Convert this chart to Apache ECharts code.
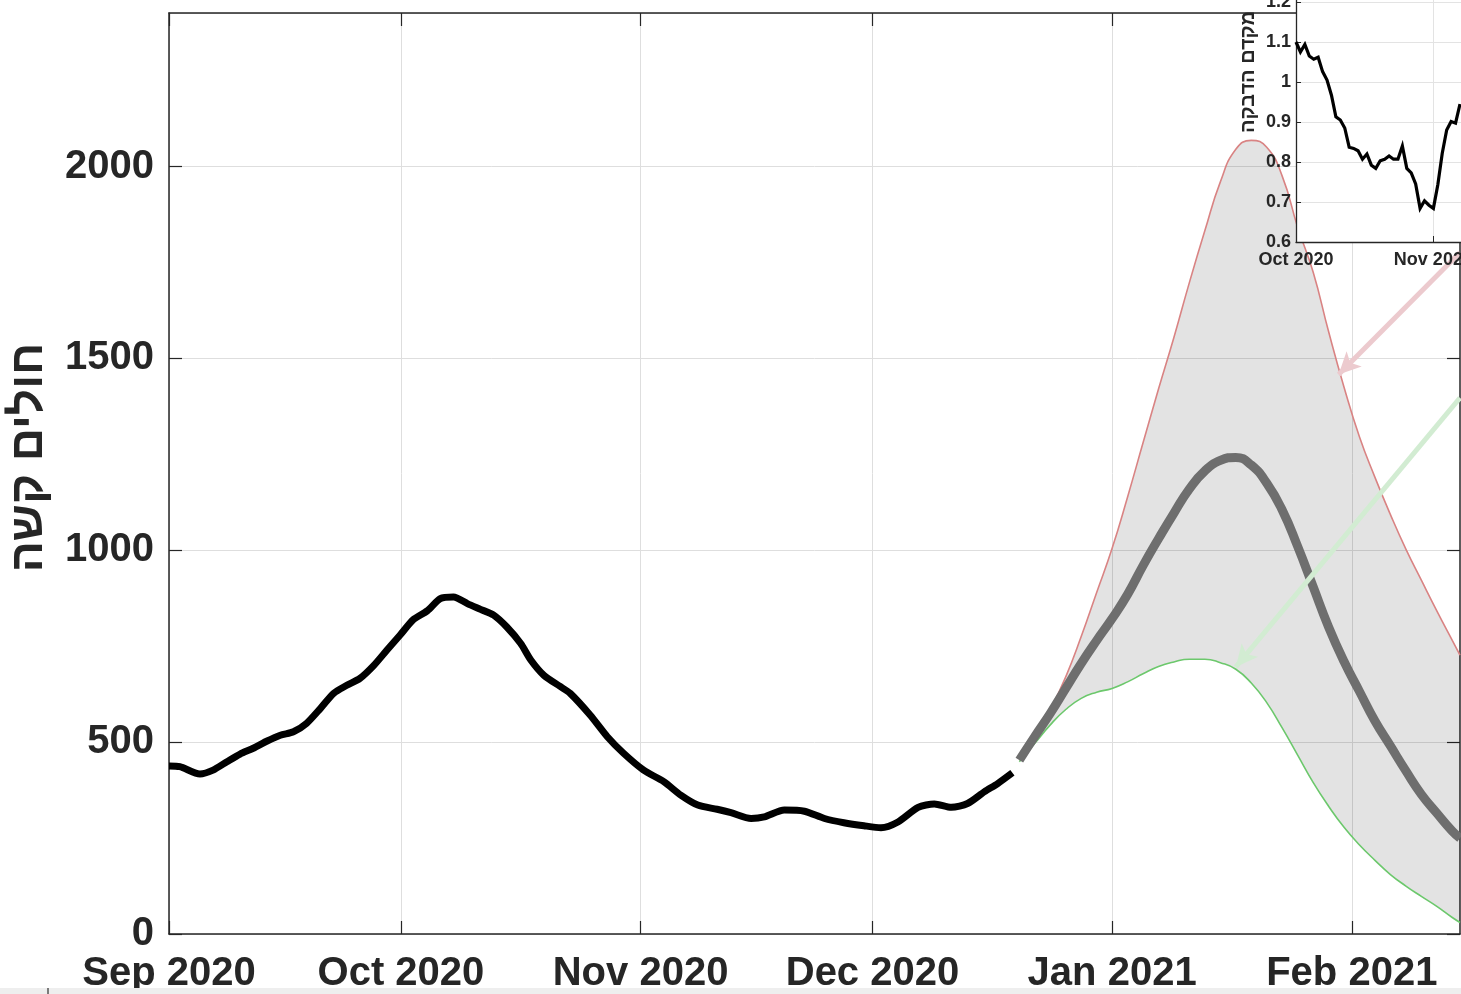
<!DOCTYPE html>
<html>
<head>
<meta charset="utf-8">
<script src="https://cdn.jsdelivr.net/npm/echarts@6/dist/echarts.min.js"></script>
<style>
html,body{margin:0;padding:0;background:#ffffff;}
#chart{width:1461px;height:994px;}
</style>
</head>
<body>
<div id="chart"></div>
<script>
// ---------- data ----------
const startDate = '2020-09-01';
const xMaxDay = 167; // days after startDate (Feb 15 2021)

// observed severe patients (day offset from Sep 1 2020, value)
const observedDays = [0, 1.4, 4, 5.7, 7.5, 9.2, 10.9, 12.7, 14.4, 16.1, 17.8, 19.6, 21.3, 23, 24.7, 26.5, 28.2, 29.9,
  31.6, 33.4, 35.1, 36.8, 38.6, 40.3, 42, 43.7, 45.5, 46.8, 48.5, 50.6, 51.9, 54.5, 56.7, 58.8, 61.4, 64, 66.2, 68.4,
  70.9, 72.7, 75.3, 77, 79.6, 82.2, 84.8, 87.3, 89.9, 92.1, 94.3, 96.9, 99, 101.2, 103.3, 105.5, 107.2, 109.1];
const observedValues = [438, 436, 417, 427, 449, 469, 484, 503, 518, 527, 549, 588, 627, 648, 666, 700, 740, 779,
  819, 842, 874, 878, 861, 846, 831, 800, 757, 714, 674, 645, 627, 570, 514, 471, 427, 397, 362, 336,
  325, 316, 301, 305, 323, 320, 301, 290, 282, 277, 292, 330, 339, 330, 340, 371, 392, 420];

// projection (day offsets from Sep 1 2020)
const projDays = [110, 112, 114, 116, 118, 120, 122, 124, 126, 128, 130, 132, 134, 136, 138, 140, 142, 144, 146, 148,
  150, 152, 154, 156, 158, 160, 162, 164, 166, 167];
const upperValues  = [453, 515, 585, 670, 775, 890, 1005, 1139, 1280, 1420, 1555, 1698, 1833, 1960, 2045, 2068, 2050, 1975, 1842, 1725,
  1570, 1425, 1295, 1190, 1093, 1003, 922, 842, 765, 727];
const medianValues = [453, 515, 575, 640, 705, 765, 822, 885, 960, 1030, 1097, 1160, 1207, 1234, 1242, 1222, 1175, 1105, 1010, 905,
  800, 710, 632, 555, 490, 425, 364, 315, 268, 250];
const lowerValues  = [449, 497, 545, 585, 614, 630, 640, 657, 678, 697, 709, 716, 716, 707, 690, 654, 603, 537, 466, 395,
  333, 278, 232, 192, 155, 125, 98, 72, 43, 30];

// axis ticks
const mainTickDates  = ['2020-09-01', '2020-10-01', '2020-11-01', '2020-12-01', '2021-01-01', '2021-02-01'];
const mainTickLabels = ['Sep 2020', 'Oct 2020', 'Nov 2020', 'Dec 2020', 'Jan 2021', 'Feb 2021'];
const yTickValues = [0, 500, 1000, 1500, 2000];

// annotation arrows: [dayOffset, value] start -> end
const upperArrow = [[167, 1776], [151.3, 1458]];
const lowerArrow = [[167, 1397], [138.0, 696]];

// inset: reproduction number, daily from Oct 1 2020
const insetStart = '2020-10-01';
const insetMaxDay = 44;
const insetValues = [1.100, 1.075, 1.094, 1.065, 1.057, 1.062, 1.026, 1.005, 0.967, 0.913, 0.905, 0.885, 0.837,
  0.834, 0.828, 0.807, 0.820, 0.792, 0.784, 0.803, 0.807, 0.815, 0.807, 0.807, 0.840, 0.784, 0.773, 0.745,
  0.684, 0.703, 0.692, 0.684, 0.743, 0.822, 0.880, 0.901, 0.897, 0.945];
const insetTickDates  = ['2020-10-01', '2020-11-01'];
const insetTickLabels = ['Oct 2020', 'Nov 2020'];

// ---------- build ----------
const DAY = 86400000;
const FONT = '"Liberation Sans", Arial, Helvetica, "DejaVu Sans", sans-serif';
const AX = '#262626';
const t0 = Date.parse(startDate);
const ti0 = Date.parse(insetStart);
const toT = d => t0 + d * DAY;

const observedData = observedDays.map((d, i) => [toT(d), observedValues[i]]);
const upperData = projDays.map((d, i) => [toT(d), upperValues[i]]);
const medianData = projDays.map((d, i) => [toT(d), medianValues[i]]);
const lowerData = projDays.map((d, i) => [toT(d), lowerValues[i]]);
const bandData = projDays.map((d, i) => [toT(d), upperValues[i] - lowerValues[i]]);
const insetData = insetValues.map((v, i) => [ti0 + i * DAY, v]);

const mainTickTs = mainTickDates.map(s => Date.parse(s));
const insetTickTs = insetTickDates.map(s => Date.parse(s));
const labelFor = (ts, labels) => v => {
  const i = ts.findIndex(t => Math.abs(t - v) < DAY / 2);
  return i >= 0 ? labels[i] : '';
};

const SMOOTH = 0.5;
const arrowLine = (pts, color) => ({
  silent: true,
  symbol: ['none', 'arrow'],
  symbolSize: [16, 22],
  label: { show: false },
  emphasis: { disabled: true },
  lineStyle: { color: color, width: 5, type: 'solid', opacity: 1 },
  data: [[{ coord: [toT(pts[0][0]), pts[0][1]] }, { coord: [toT(pts[1][0]), pts[1][1]] }]]
});

const chart = echarts.init(document.getElementById('chart'), null, { renderer: 'canvas' });

const option = {
  animation: false,
  backgroundColor: '#ffffff',
  textStyle: { fontFamily: FONT },
  grid: [
    { left: 169, right: 1, top: 13, bottom: 60, containLabel: false, outerBoundsMode: 'none', show: false },
    { left: 1296, right: -30, top: -98, bottom: 752, containLabel: false, outerBoundsMode: 'none',
      show: true, backgroundColor: '#ffffff', borderWidth: 0, z: 10 }
  ],
  xAxis: [
    {
      type: 'value', gridIndex: 0, position: 'bottom', min: t0, max: toT(xMaxDay), scale: true,
      axisLine: { show: true, onZero: false, lineStyle: { color: AX, width: 1.5 } },
      axisTick: { show: true, inside: true, length: 13, customValues: mainTickTs, lineStyle: { color: AX, width: 1.2 } },
      axisLabel: { show: true, customValues: mainTickTs, formatter: labelFor(mainTickTs, mainTickLabels),
        fontSize: 40, fontWeight: 'bold', color: AX, fontFamily: FONT, margin: 20, hideOverlap: false },
      splitLine: { show: true, lineStyle: { color: '#dedede', width: 1 } }
    },
    {
      type: 'value', gridIndex: 0, position: 'top', min: t0, max: toT(xMaxDay), scale: true,
      axisLine: { show: true, onZero: false, lineStyle: { color: AX, width: 1.5 } },
      axisTick: { show: true, inside: true, length: 13, customValues: mainTickTs, lineStyle: { color: AX, width: 1.2 } },
      axisLabel: { show: false },
      splitLine: { show: false }
    },
    {
      type: 'value', gridIndex: 1, position: 'bottom', min: ti0, max: ti0 + insetMaxDay * DAY, scale: true, z: 11,
      axisLine: { show: true, onZero: false, lineStyle: { color: AX, width: 1.3 } },
      axisTick: { show: true, inside: true, length: 6, customValues: insetTickTs, lineStyle: { color: AX, width: 1 } },
      axisLabel: { show: true, customValues: insetTickTs, formatter: labelFor(insetTickTs, insetTickLabels),
        fontSize: 18, fontWeight: 'bold', color: AX, fontFamily: FONT, margin: 9, hideOverlap: false },
      splitLine: { show: true, lineStyle: { color: '#e3e3e3', width: 1 } }
    },
    {
      // hidden time axis on the main grid, used by the stacked band (stacking needs a time/category base)
      type: 'time', gridIndex: 0, position: 'bottom', min: t0, max: toT(xMaxDay), show: false,
      axisLine: { show: false }, axisTick: { show: false }, axisLabel: { show: false }, splitLine: { show: false }
    }
  ],
  yAxis: [
    {
      type: 'value', gridIndex: 0, position: 'left', min: 0, max: 2400, interval: 500,
      name: 'חולים קשה', nameLocation: 'middle', nameRotate: 90, nameGap: 117,
      nameTextStyle: { fontSize: 46, fontWeight: 'bold', color: AX, fontFamily: FONT, padding: [0, 0, 0, 32] },
      axisLine: { show: true, onZero: false, lineStyle: { color: AX, width: 1.5 } },
      axisTick: { show: true, inside: true, length: 13, lineStyle: { color: AX, width: 1.2 } },
      axisLabel: { show: true, showMaxLabel: false, formatter: v => (yTickValues.indexOf(v) >= 0 ? String(v) : ''),
        fontSize: 40, fontWeight: 'bold', color: AX, fontFamily: FONT, margin: 15 },
      splitLine: { show: true, lineStyle: { color: '#dedede', width: 1 } }
    },
    {
      type: 'value', gridIndex: 0, position: 'right', min: 0, max: 2400, interval: 500,
      axisLine: { show: true, onZero: false, lineStyle: { color: AX, width: 1.5 } },
      axisTick: { show: true, inside: true, length: 13, lineStyle: { color: AX, width: 1.2 } },
      axisLabel: { show: false },
      splitLine: { show: false }
    },
    {
      type: 'value', gridIndex: 1, position: 'left', min: 0.6, max: 1.45, interval: 0.1, z: 11,
      name: 'מקדם הדבקה', nameLocation: 'middle', nameRotate: 90, nameGap: 38,
      nameTextStyle: { fontSize: 20, fontWeight: 'bold', color: AX, fontFamily: FONT },
      axisLine: { show: true, onZero: false, lineStyle: { color: AX, width: 1.3 } },
      axisTick: { show: true, inside: true, length: 5, lineStyle: { color: AX, width: 1 } },
      axisLabel: { show: true, showMaxLabel: false, formatter: v => String(Math.round(v * 10) / 10),
        fontSize: 18, fontWeight: 'bold', color: AX, fontFamily: FONT, margin: 5 },
      splitLine: { show: true, lineStyle: { color: '#e3e3e3', width: 1 } }
    }
  ],
  series: [
    { name: 'lowerBase', type: 'line', xAxisIndex: 3, yAxisIndex: 0, data: lowerData, stack: 'band',
      smooth: SMOOTH, symbol: 'none', lineStyle: { opacity: 0 }, silent: true, z: 1 },
    { name: 'band', type: 'line', xAxisIndex: 3, yAxisIndex: 0, data: bandData, stack: 'band',
      smooth: SMOOTH, symbol: 'none', lineStyle: { opacity: 0 }, areaStyle: { color: 'rgba(0,0,0,0.11)', opacity: 1 },
      silent: true, z: 1 },
    { name: 'upper', type: 'line', xAxisIndex: 0, yAxisIndex: 0, data: upperData, smooth: SMOOTH, symbol: 'none',
      lineStyle: { color: '#d98383', width: 1.6 }, silent: true, z: 2 },
    { name: 'lower', type: 'line', xAxisIndex: 0, yAxisIndex: 0, data: lowerData, smooth: SMOOTH, symbol: 'none',
      lineStyle: { color: '#6cc86c', width: 1.6 }, silent: true, z: 2 },
    { name: 'median', type: 'line', xAxisIndex: 0, yAxisIndex: 0, data: medianData, smooth: SMOOTH, symbol: 'none',
      lineStyle: { color: '#6e6e6e', width: 9, cap: 'butt' }, silent: true, z: 3 },
    { name: 'observed', type: 'line', xAxisIndex: 0, yAxisIndex: 0, data: observedData, smooth: 0.25, symbol: 'none',
      lineStyle: { color: '#000000', width: 7, cap: 'butt', join: 'round' }, silent: true, z: 3 },
    { name: 'arrowUpper', type: 'line', xAxisIndex: 0, yAxisIndex: 0, data: [[toT(upperArrow[1][0]), upperArrow[1][1]]],
      symbol: 'none', lineStyle: { opacity: 0 }, silent: true, z: 4, markLine: arrowLine(upperArrow, '#eccace') },
    { name: 'arrowLower', type: 'line', xAxisIndex: 0, yAxisIndex: 0, data: [[toT(lowerArrow[1][0]), lowerArrow[1][1]]],
      symbol: 'none', lineStyle: { opacity: 0 }, silent: true, z: 4, markLine: arrowLine(lowerArrow, '#d2ecd2') },
    { name: 'R', type: 'line', xAxisIndex: 2, yAxisIndex: 2, data: insetData, symbol: 'none',
      lineStyle: { color: '#000000', width: 3.2, join: 'miter' }, silent: true, z: 12 }
  ],
  graphic: [
    { type: 'rect', shape: { x: 0, y: 988, width: 1461, height: 6 }, style: { fill: '#eeeeee' }, z: 100, silent: true },
    { type: 'line', shape: { x1: 48, y1: 988, x2: 48, y2: 994 }, style: { stroke: '#555555', lineWidth: 1.5 }, z: 101, silent: true }
  ]
};

chart.setOption(option);
</script>
</body>
</html>
